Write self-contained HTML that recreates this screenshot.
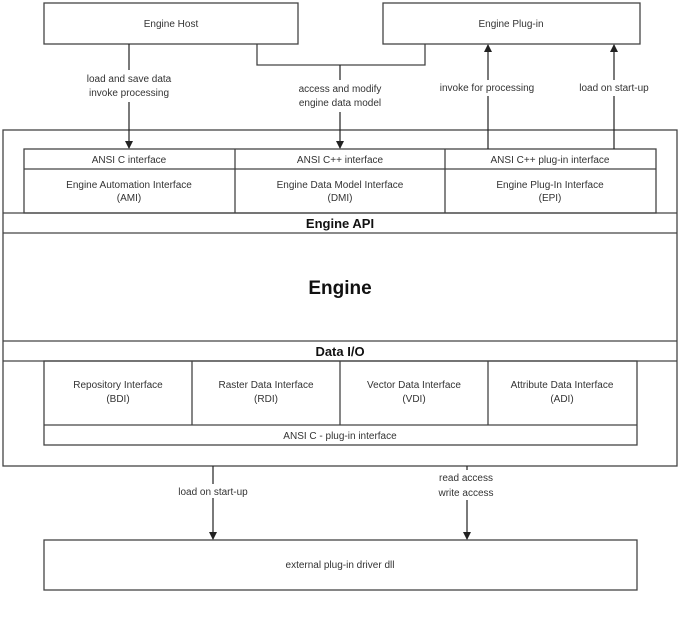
<!DOCTYPE html>
<html><head><style>
body{margin:0;background:#fff;width:681px;height:618px;overflow:hidden}
svg text{font-family:"Liberation Sans",sans-serif;fill:#333;font-size:10px;text-anchor:middle}
</style></head><body>
<svg width="681" height="618" viewBox="0 0 681 618" xmlns="http://www.w3.org/2000/svg">
<defs><marker id="a" markerWidth="8" markerHeight="8" refX="4" refY="7" orient="0" markerUnits="userSpaceOnUse"><path d="M0,0 L8,0 L4,8 z" fill="#222"/></marker>
<marker id="u" markerWidth="8" markerHeight="8" refX="4" refY="1" orient="0" markerUnits="userSpaceOnUse"><path d="M0,8 L8,8 L4,0 z" fill="#222"/></marker></defs>
<g stroke="#444" stroke-width="1.3" fill="none">
<rect x="44" y="3" width="254" height="41"/>
<rect x="383" y="3" width="257" height="41"/>
<polyline points="257,44 257,65 425,65 425,44"/>
<rect x="3" y="130" width="674" height="336"/>
<rect x="24" y="149" width="632" height="64"/>
<line x1="24" y1="169" x2="656" y2="169"/>
<line x1="235" y1="149" x2="235" y2="213"/>
<line x1="445" y1="149" x2="445" y2="213"/>
<line x1="3" y1="213" x2="677" y2="213"/>
<line x1="3" y1="233" x2="677" y2="233"/>
<line x1="3" y1="341" x2="677" y2="341"/>
<line x1="3" y1="361" x2="677" y2="361"/>
<rect x="44" y="361" width="593" height="84"/>
<line x1="44" y1="425" x2="637" y2="425"/>
<line x1="192" y1="361" x2="192" y2="425"/>
<line x1="340" y1="361" x2="340" y2="425"/>
<line x1="488" y1="361" x2="488" y2="425"/>
<rect x="44" y="540" width="593" height="50"/>
</g>
<g stroke="#222" stroke-width="1.2">
<line x1="129" y1="44" x2="129" y2="70"/><line x1="129" y1="102" x2="129" y2="148" marker-end="url(#a)"/>
<line x1="340" y1="65" x2="340" y2="80"/><line x1="340" y1="112" x2="340" y2="148" marker-end="url(#a)"/>
<line x1="488" y1="149" x2="488" y2="96"/><line x1="488" y1="80" x2="488" y2="45" marker-end="url(#u)"/>
<line x1="614" y1="149" x2="614" y2="96"/><line x1="614" y1="80" x2="614" y2="45" marker-end="url(#u)"/>
<line x1="213" y1="466" x2="213" y2="484"/><line x1="213" y1="498" x2="213" y2="539" marker-end="url(#a)"/>
<line x1="467" y1="466" x2="467" y2="470"/><line x1="467" y1="500" x2="467" y2="539" marker-end="url(#a)"/>
</g>
<text x="171" y="27">Engine Host</text>
<text x="511" y="27">Engine Plug-in</text>
<text x="129" y="82">load and save data</text>
<text x="129" y="96">invoke processing</text>
<text x="340" y="92">access and modify</text>
<text x="340" y="106">engine data model</text>
<text x="487" y="91">invoke for processing</text>
<text x="614" y="91">load on start-up</text>
<text x="129" y="163">ANSI C interface</text>
<text x="340" y="163">ANSI C++ interface</text>
<text x="550" y="163">ANSI C++ plug-in interface</text>
<text x="129" y="188">Engine Automation Interface</text><text x="129" y="201">(AMI)</text>
<text x="340" y="188">Engine Data Model Interface</text><text x="340" y="201">(DMI)</text>
<text x="550" y="188">Engine Plug-In Interface</text><text x="550" y="201">(EPI)</text>
<text x="340" y="228" style="font-size:13px;font-weight:bold;fill:#111">Engine API</text>
<text x="340" y="294" style="font-size:19px;font-weight:bold;fill:#111">Engine</text>
<text x="340" y="356" style="font-size:13px;font-weight:bold;fill:#111">Data I/O</text>
<text x="118" y="388">Repository Interface</text><text x="118" y="402">(BDI)</text>
<text x="266" y="388">Raster Data Interface</text><text x="266" y="402">(RDI)</text>
<text x="414" y="388">Vector Data Interface</text><text x="414" y="402">(VDI)</text>
<text x="562" y="388">Attribute Data Interface</text><text x="562" y="402">(ADI)</text>
<text x="340" y="439">ANSI C - plug-in interface</text>
<text x="213" y="495">load on start-up</text>
<text x="466" y="481">read access</text>
<text x="466" y="496">write access</text>
<text x="340" y="568">external plug-in driver dll</text>
</svg>
</body></html>
